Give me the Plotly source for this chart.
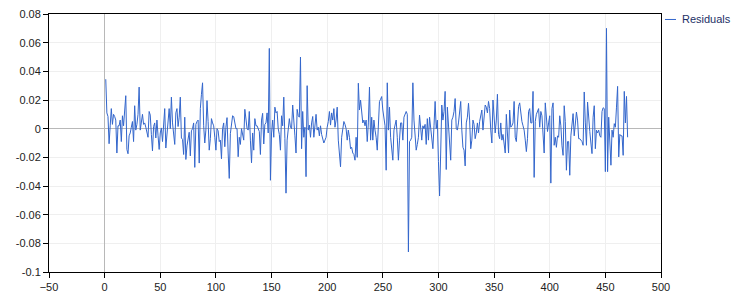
import plotly.graph_objects as go

# Residual values, index 1..470
residuals = [
    0.0345, 0.011, 0.0085, -0.0105, 0.002, 0.014, 0.003, 0.010, 0.0085, 0.006,
    -0.017, 0.002, 0.002, 0.006, -0.009, 0.009, 0.002, 0.010, 0.023, -0.0145,
    -0.0175, -0.005, -0.003, 0.001, 0.005, -0.009, 0.016, -0.001, 0.003, 0.010,
    0.029, -0.001, 0.005, 0.010, 0.003, 0.004, 0.001, -0.002, -0.006, 0.012,
    0.0095, -0.004, -0.0155, 0.0015, 0.004, -0.0065, 0.006, -0.005, -0.0145, -0.003,
    0.0005, -0.009, 0.004, 0.014, -0.0135, -0.002, 0.0085, 0.014, 0.0, 0.022,
    0.004, -0.003, -0.011, 0.011, 0.014, 0.0015, 0.008, 0.022, -0.0065, -0.0075,
    -0.018, 0.008, -0.0215, -0.012, -0.008, -0.0025, -0.019, -0.0015, 0.0, 0.004,
    -0.027, 0.003, 0.005, 0.006, -0.024, 0.014, 0.024, 0.032, 0.002, -0.010,
    -0.001, 0.0196, 0.005, -0.015, -0.007, 0.007, 0.004, 0.002, -0.006, -0.015,
    0.0, -0.0015, -0.009, -0.008, -0.021, 0.0, 0.004, -0.0126, 0.001, 0.0077,
    -0.017, -0.0347, -0.0035, 0.005, 0.009, 0.0084, 0.003, 0.0, 0.0, -0.0196,
    -0.006, -0.011, 0.0, -0.005, -0.008, 0.0135, 0.006, 0.0, -0.001, 0.012,
    -0.008, -0.0238, -0.003, -0.015, 0.007, 0.002, 0.002, 0.0, -0.002, -0.018,
    0.006, 0.0107, -0.0107, 0.003, 0.004, 0.011, -0.003, 0.056, -0.036, -0.003,
    0.006, -0.006, 0.015, 0.011, 0.012, 0.0, -0.004, -0.015, 0.009, 0.002,
    0.022, -0.007, -0.045, -0.008, 0.0, 0.007, 0.001, 0.0, 0.0165, 0.008,
    -0.005, -0.017, 0.0135, 0.009, 0.008, 0.050, -0.014, 0.012, -0.006, 0.001,
    -0.0335, 0.030, -0.001, 0.0025, -0.006, 0.004, 0.0085, -0.006, 0.005, 0.010,
    -0.001, 0.001, -0.005, 0.002, -0.004, -0.008, -0.010, -0.008, -0.006, 0.001,
    0.005, 0.012, 0.0025, 0.011, 0.006, 0.014, 0.001, 0.006, 0.015, -0.008,
    -0.015, -0.0266, -0.006, 0.002, 0.005, 0.003, 0.0, -0.008, -0.001, -0.006,
    -0.014, -0.013, -0.017, -0.018, -0.022, -0.006, -0.020, 0.0317, 0.013, 0.020,
    0.013, 0.004, 0.006, 0.002, 0.006, -0.009, 0.004, 0.029, -0.008, 0.008,
    -0.008, 0.006, -0.001, -0.006, -0.015, 0.004, 0.019, 0.0205, 0.0224, 0.013,
    0.006, 0.002, -0.029, 0.032, -0.001, 0.015, -0.006, -0.017, -0.022, -0.001,
    0.004, 0.006, -0.006, -0.022, -0.008, 0.004, 0.004, -0.008, 0.008, 0.011,
    0.012, 0.010, -0.086, -0.009, -0.008, -0.006, 0.032, 0.006, -0.005, -0.015,
    -0.011, -0.006, 0.0095, 0.001, -0.008, 0.002, 0.0, 0.003, -0.011, 0.007,
    -0.008, 0.008, 0.001, -0.005, -0.014, 0.002, 0.019, 0.0, 0.006, -0.023,
    -0.047, -0.017, 0.0165, 0.006, 0.012, 0.026, -0.0285, 0.015, 0.004, -0.010,
    -0.022, 0.006, 0.008, 0.012, 0.021, 0.0, -0.001, 0.004, 0.010, 0.019,
    -0.001, -0.013, -0.015, -0.026, 0.004, 0.008, 0.0177, 0.006, -0.014, -0.008,
    0.006, 0.003, -0.007, -0.003, 0.004, -0.003, 0.005, 0.009, 0.013, -0.001,
    0.012, 0.0165, 0.015, 0.011, 0.019, 0.014, -0.001, -0.010, 0.020, 0.009,
    -0.003, 0.006, 0.024, -0.004, -0.007, 0.004, -0.008, -0.004, -0.010, -0.017,
    0.010, -0.007, -0.017, 0.013, 0.001, 0.002, 0.004, 0.019, -0.006, -0.009,
    0.002, 0.0155, 0.018, 0.010, 0.005, 0.002, -0.001, -0.008, -0.016, -0.007,
    0.012, 0.014, 0.004, 0.004, 0.026, -0.034, 0.005, 0.010, 0.012, 0.014,
    0.001, 0.012, 0.009, -0.002, -0.017, 0.018, 0.006, -0.002, 0.004, 0.009,
    -0.038, 0.014, 0.018, -0.0116, -0.006, -0.013, -0.005, -0.006, 0.009, 0.002,
    -0.012, -0.0186, 0.016, 0.005, -0.029, -0.009, -0.009, -0.0325, -0.005, 0.006,
    0.0105, -0.005, 0.006, 0.0116, 0.006, -0.007, -0.007, -0.008, -0.009, -0.0116,
    0.0256, 0.004, -0.0116, 0.0186, 0.006, -0.002, -0.010, -0.0174, 0.008, 0.016,
    -0.014, -0.001, -0.003, -0.001, -0.005, -0.006, 0.012, 0.0146, 0.014, -0.030,
    0.070, -0.030, 0.008, -0.013, -0.0255, -0.001, -0.006, 0.0035, 0.001, 0.015,
    0.0295, -0.0197, -0.004, -0.005, -0.005, -0.0186, 0.026, 0.004, 0.0225, -0.006,
]
index = list(range(1, len(residuals) + 1))

x_ticks = [-50, 0, 50, 100, 150, 200, 250, 300, 350, 400, 450, 500]
y_ticks = [-0.1, -0.08, -0.06, -0.04, -0.02, 0, 0.02, 0.04, 0.06, 0.08]
y_tick_labels = ["-0.1", "-0.08", "-0.06", "-0.04", "-0.02", "0", "0.02", "0.04", "0.06", "0.08"]
series_name = "Residuals"

line_color = "#3366cc"
font_family = "Liberation Sans, Arial, sans-serif"
text_color = "#222222"

fig = go.Figure()
fig.add_trace(go.Scatter(
    x=index, y=residuals, mode="lines", name=series_name,
    line=dict(color=line_color, width=1), showlegend=False,
))

axis_common = dict(
    automargin=False,
    showline=True, linecolor="#000000", linewidth=1, mirror=True,
    ticks="outside", ticklen=5, tickcolor="#000000",
    showgrid=True, gridcolor="#efefef", gridwidth=1,
    zeroline=True, zerolinecolor="#b8b8b8", zerolinewidth=1,
    tickfont=dict(family=font_family, size=11, color=text_color),
)

fig.update_xaxes(range=[-50, 500], tickvals=x_ticks, **axis_common)
fig.update_yaxes(range=[-0.1, 0.08], tickvals=y_ticks, ticktext=y_tick_labels, **axis_common)

# legend drawn as a short line + text at the top right
fig.add_shape(type="line", xref="paper", yref="paper",
              x0=1.0065, x1=1.0245, y0=0.9788, y1=0.9788,
              line=dict(color=line_color, width=1))
fig.add_annotation(text=series_name, xref="paper", yref="paper",
                   x=1.031, y=0.9788, xanchor="left", yanchor="middle",
                   showarrow=False,
                   font=dict(family=font_family, size=11, color="#1c2f66"))

fig.update_layout(
    width=750, height=300,
    margin=dict(l=49, r=89, t=14, b=28, autoexpand=False),
    paper_bgcolor="#ffffff", plot_bgcolor="#ffffff",
    showlegend=False,
)

fig.write_html("out.html")
